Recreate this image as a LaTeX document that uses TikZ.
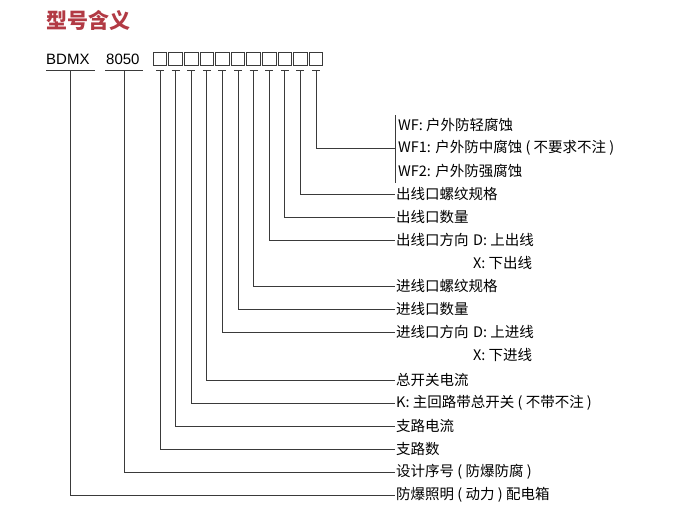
\documentclass[tikz,border=0pt]{standalone}
\usepackage{fontspec}
\setmainfont{Noto Sans CJK SC}
\newfontfamily\latinfont{Liberation Sans}
\usetikzlibrary{positioning}
\definecolor{titlered}{HTML}{B23A44}
\definecolor{linegray}{HTML}{3A3A3A}
\tikzset{
  lab/.style={anchor=west,inner sep=1pt,font=\fontsize{14.5}{15}\selectfont},
  cell/.style={draw=linegray,minimum size=13.5pt,inner sep=0pt,line width=0.8pt},
  wire/.style={draw=linegray,line width=0.8pt}
}
\begin{document}
\begin{tikzpicture}[x=1pt,y=-1pt]
\useasboundingbox (0,0) rectangle (700,520);
% title and code
\node[anchor=west,inner sep=0pt,text=titlered,font=\fontsize{21}{22}\selectfont\bfseries] (title) at (46,20) {型号含义};
\node[anchor=west,inner sep=0pt,font=\fontsize{15}{16}\latinfont] (bdmx) at (46,59) {BDMX};
\node[anchor=west,inner sep=0pt,font=\fontsize{15}{16}\latinfont] (code) at (106,59) {8050};
\draw[wire] (46,70) -- (95,70);
\draw[wire] (105,70) -- (143,70);
\coordinate (t0) at (70,70);
\coordinate (tc) at (124,70);
\foreach \i in {1,...,11} {
  \node[cell] (b\i) at ({160+15.6*(\i-1)},59) {};
  \draw[wire] ({156+15.6*(\i-1)},70) -- ({164+15.6*(\i-1)},70);
  \coordinate (t\i) at ({160+15.6*(\i-1)},70);
}
% labels
\node[lab] (wf) at (397,125) {WF: 户外防轻腐蚀};
\node[lab] (wfa) at (397,148) {WF1: 户外防中腐蚀 ( 不要求不注 )};
\node[lab] (wfb) at (397,171) {WF2: 户外防强腐蚀};
\node[lab] (othread) at (395,194) {出线口螺纹规格};
\node[lab] (onum) at (395,217) {出线口数量};
\node[lab] (odir) at (395,240) {出线口方向};
\node[lab,right=2pt of odir] (odird) {D: 上出线};
\node[lab] (odirx) at (odird.west |- 0,263) {X: 下出线};
\node[lab] (ithread) at (395,286) {进线口螺纹规格};
\node[lab] (inum) at (395,309) {进线口数量};
\node[lab] (idir) at (395,332) {进线口方向};
\node[lab,right=2pt of idir] (idird) {D: 上进线};
\node[lab] (idirx) at (idird.west |- 0,355) {X: 下进线};
\node[lab] (mcur) at (395,380) {总开关电流};
\node[lab] (mk) at (395,403) {K: 主回路带总开关 ( 不带不注 )};
\node[lab] (bcur) at (395,426) {支路电流};
\node[lab] (bnum) at (395,449) {支路数};
\node[lab] (serial) at (395,472) {设计序号 ( 防爆防腐 )};
\node[lab] (kind) at (395,495) {防爆照明 ( 动力 ) 配电箱};
% connectors
\draw[wire] (395,115) -- (395,183);
\draw[wire] (t11) |- (395,148);
\draw[wire] (t10) |- (othread.west);
\draw[wire] (t9) |- (onum.west);
\draw[wire] (t8) |- (odir.west);
\draw[wire] (t7) |- (ithread.west);
\draw[wire] (t6) |- (inum.west);
\draw[wire] (t5) |- (idir.west);
\draw[wire] (t4) |- (mcur.west);
\draw[wire] (t3) |- (mk.west);
\draw[wire] (t2) |- (bcur.west);
\draw[wire] (t1) |- (bnum.west);
\draw[wire] (tc) |- (serial.west);
\draw[wire] (t0) |- (kind.west);
\end{tikzpicture}
\end{document}
